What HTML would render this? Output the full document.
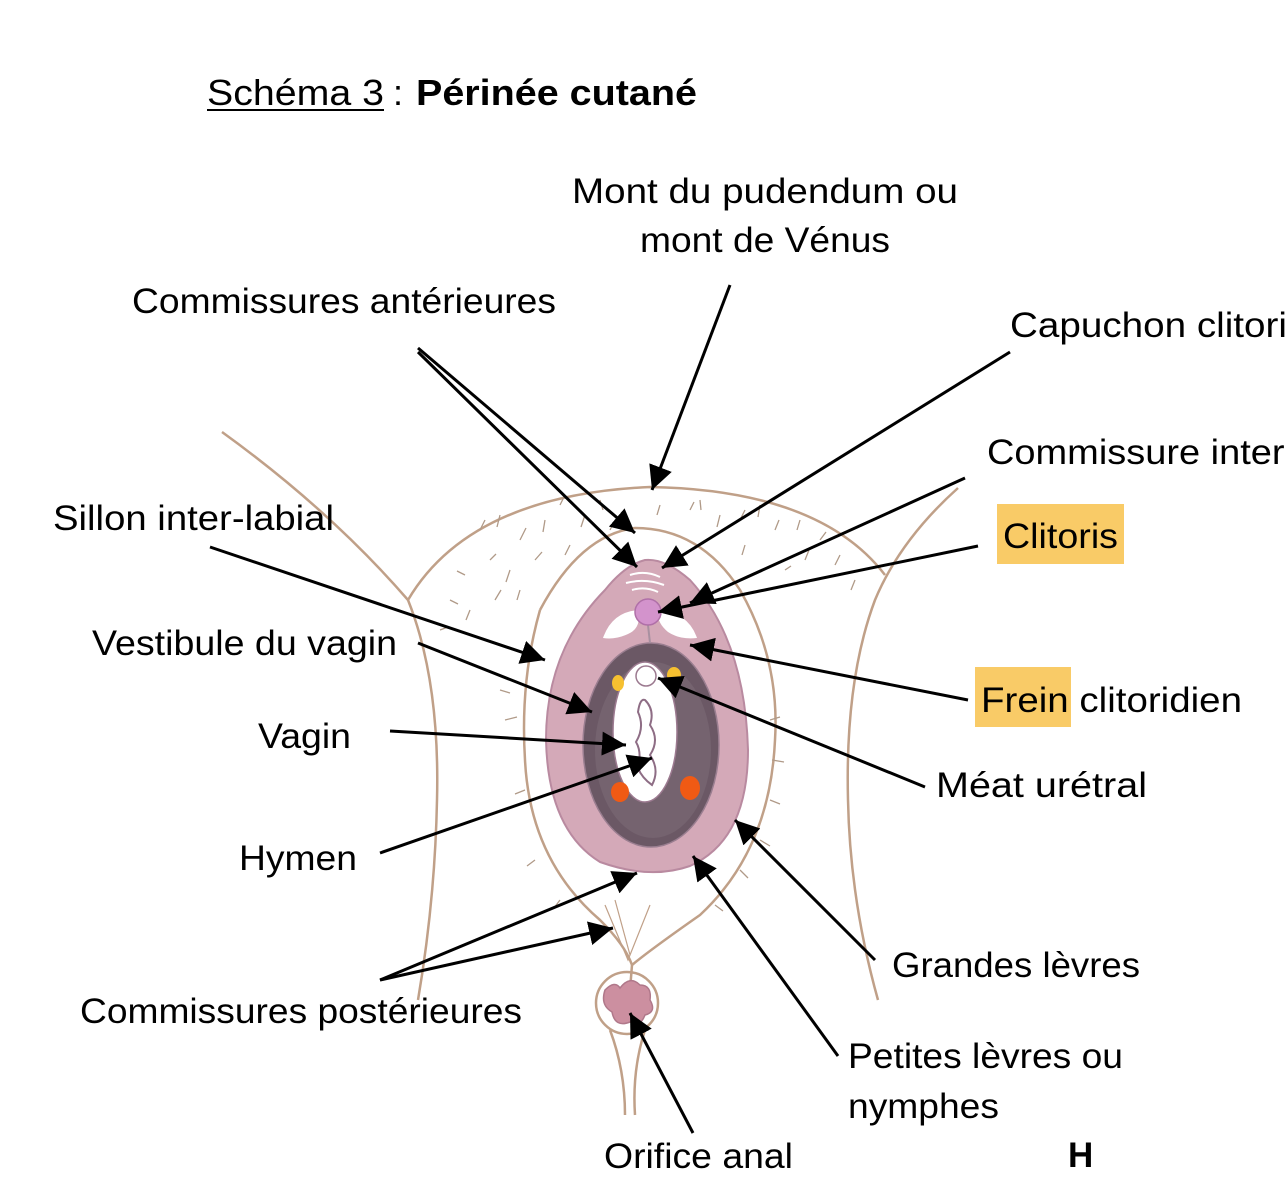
<!DOCTYPE html>
<html><head><meta charset="utf-8"><style>
html,body{margin:0;padding:0;background:#fff;}
svg{display:block;}
text{font-family:"Liberation Sans",sans-serif;fill:#000;}
</style></head><body>
<svg width="1286" height="1192" viewBox="0 0 1286 1192" xmlns="http://www.w3.org/2000/svg">
<defs>
<marker id="a" viewBox="0 0 10 10" refX="10" refY="5" markerWidth="24" markerHeight="24" markerUnits="userSpaceOnUse" orient="auto"><path d="M0,0 L10,5 L0,10 z" fill="#000"/></marker>
</defs>
<rect width="1286" height="1192" fill="#fff"/>

<text x="207" y="105" font-size="36" textLength="177" lengthAdjust="spacingAndGlyphs">Schéma 3</text>
<line x1="207" y1="110" x2="384" y2="110" stroke="#000" stroke-width="2"/>
<text x="393" y="105" font-size="36">:</text>
<text x="416" y="105" font-size="36" font-weight="bold" textLength="281" lengthAdjust="spacingAndGlyphs">Périnée cutané</text>

<g fill="none" stroke="#c0a088" stroke-width="2.5">
<path d="M222,432 Q330,510 408,600 Q440,680 437,800 Q435,900 418,1000"/>
<path d="M958,488 Q900,540 875,600 Q845,680 848,800 Q850,900 878,1000"/>
<path d="M408,600 Q470,495 650,487 Q820,490 885,575"/>
<path d="M540,610 Q580,535 635,528 Q700,528 740,590 Q780,660 775,740 Q770,850 700,915 Q650,950 632,965"/>
<path d="M540,610 Q520,680 525,760 Q530,860 600,920 Q625,945 632,965"/>
<path d="M632,965 L630,990" />
<path d="M610,1030 Q625,1070 625,1115 M645,1030 Q632,1070 635,1115"/>
<circle cx="627" cy="1003" r="31"/>
<path d="M605,905 L628,960 L650,905 M615,900 L630,955" stroke-width="1.2"/>
</g>
<path d="M605,990 Q615,980 620,988 Q630,975 640,985 Q652,985 650,1000 Q657,1012 645,1015 Q640,1028 630,1022 Q615,1028 612,1012 Q600,1005 605,990 z" fill="#cc8fa0" stroke="#b0788a" stroke-width="1.5"/>

<g stroke="#b09a88" stroke-width="1.3" fill="none">
<path d="M480,530 l5,-10 M500,515 l-3,12 M520,540 l6,-12 M545,520 l-2,12 M560,505 l5,-10 M585,515 l-4,12 M600,500 l3,10 M570,545 l-5,10 M535,560 l7,-8 M510,570 l-4,12 M490,560 l6,-6 M465,575 l-8,-4 M450,600 l8,4 M470,610 l-4,10 M495,600 l6,-10 M520,590 l-3,10 M610,530 l5,-10 M660,505 l-3,10 M690,510 l4,-8 M700,500 l1,10 M720,515 l-3,12 M740,520 l5,-10 M760,505 l-2,12 M775,530 l4,-10 M800,520 l-3,10 M820,540 l6,-8 M840,555 l-5,10 M805,560 l4,-10 M785,570 l6,-4 M855,580 l-4,10 M745,545 l-3,10 M440,630 l8,-3 M500,690 l10,3 M505,720 l12,-3 M525,790 l-10,4 M535,860 l-8,6 M770,720 l10,-3 M772,760 l12,2 M770,800 l10,4 M760,840 l10,6 M740,870 l8,8 M715,905 l8,6 M560,900 l-6,8"/>
</g>

<path d="M645,560 Q665,558 690,580 Q745,640 748,750 Q748,840 690,866 Q650,880 600,862 Q548,830 546,740 Q546,650 605,590 Q625,565 645,560 z" fill="#d4a9b8" stroke="#b98aa0" stroke-width="2"/>
<ellipse cx="651" cy="745" rx="68" ry="102" fill="#6b5865" stroke="#9a7e90" stroke-width="1.5"/>
<ellipse cx="653" cy="750" rx="58" ry="88" fill="#7c6a76" opacity="0.6"/>
<ellipse cx="645" cy="732" rx="32" ry="70" fill="#fff" stroke="#9c7a90" stroke-width="1.5"/>
<path d="M645,700 Q655,710 650,725 Q660,740 650,755 Q660,770 652,785 Q642,778 638,768 Q642,752 636,742 Q645,727 638,712 Q640,698 645,700 z" fill="#fff" stroke="#8e6d85" stroke-width="2"/>
<path d="M603,638 Q612,612 638,610 Q642,628 628,634 Q615,640 603,638 z" fill="#fff"/>
<path d="M658,610 Q688,612 697,638 Q680,640 668,632 Q656,622 658,610 z" fill="#fff"/>
<path d="M630,575 Q645,570 660,577 M626,583 Q645,578 664,585 M632,590 Q645,586 658,592" stroke="#fff" stroke-width="2" fill="none"/>
<path d="M648,625 L650,643" stroke="#a890a0" stroke-width="2"/>
<circle cx="648" cy="612" r="13" fill="#d393cc" stroke="#b070a8" stroke-width="1.5"/>
<circle cx="646" cy="676" r="10" fill="#fff" stroke="#9c7a90" stroke-width="1.5"/>
<ellipse cx="618" cy="683" rx="6" ry="8" fill="#f6c030"/>
<ellipse cx="674" cy="675" rx="7" ry="8" fill="#f6c030"/>
<ellipse cx="620" cy="792" rx="9" ry="10" fill="#f05a14"/>
<ellipse cx="690" cy="788" rx="10" ry="12" fill="#f05a14"/>

<g stroke="#000" stroke-width="3" fill="none" marker-end="url(#a)">
<line x1="730" y1="285" x2="652" y2="490"/>
<line x1="418" y1="348" x2="635" y2="533"/>
<line x1="418" y1="352" x2="637" y2="567"/>
<line x1="1010" y1="352" x2="662" y2="568"/>
<line x1="965" y1="478" x2="690" y2="603"/>
<line x1="978" y1="546" x2="658" y2="612"/>
<line x1="968" y1="700" x2="690" y2="645"/>
<line x1="925" y1="787" x2="658" y2="678"/>
<line x1="210" y1="547" x2="545" y2="660"/>
<line x1="418" y1="643" x2="592" y2="712"/>
<line x1="390" y1="731" x2="626" y2="745"/>
<line x1="380" y1="853" x2="652" y2="758"/>
<line x1="380" y1="980" x2="637" y2="873"/>
<line x1="380" y1="980" x2="613" y2="928"/>
<line x1="875" y1="960" x2="735" y2="820"/>
<line x1="838" y1="1056" x2="693" y2="856"/>
<line x1="693" y1="1133" x2="630" y2="1013"/>
</g>

<rect x="997" y="504" width="127" height="60" fill="#f9cb67"/>
<rect x="975" y="667" width="96" height="60" fill="#f9cb67"/>

<g font-size="35">
<text x="572" y="203" textLength="386" lengthAdjust="spacingAndGlyphs">Mont du pudendum ou</text>
<text x="640" y="252" textLength="250" lengthAdjust="spacingAndGlyphs">mont de Vénus</text>
<text x="132" y="313" textLength="424" lengthAdjust="spacingAndGlyphs">Commissures antérieures</text>
<text x="1010" y="337" textLength="350" lengthAdjust="spacingAndGlyphs">Capuchon clitoridien</text>
<text x="987" y="464" textLength="420" lengthAdjust="spacingAndGlyphs">Commissure inter-labiale</text>
<text x="1003" y="548" textLength="115" lengthAdjust="spacingAndGlyphs">Clitoris</text>
<text x="53" y="530" textLength="281" lengthAdjust="spacingAndGlyphs">Sillon inter-labial</text>
<text x="92" y="655" textLength="305" lengthAdjust="spacingAndGlyphs">Vestibule du vagin</text>
<text x="981" y="712" textLength="261" lengthAdjust="spacingAndGlyphs">Frein clitoridien</text>
<text x="258" y="748" textLength="93" lengthAdjust="spacingAndGlyphs">Vagin</text>
<text x="936" y="797" textLength="211" lengthAdjust="spacingAndGlyphs">Méat urétral</text>
<text x="239" y="870" textLength="118" lengthAdjust="spacingAndGlyphs">Hymen</text>
<text x="892" y="977" textLength="248" lengthAdjust="spacingAndGlyphs">Grandes lèvres</text>
<text x="80" y="1023" textLength="442" lengthAdjust="spacingAndGlyphs">Commissures postérieures</text>
<text x="848" y="1068" textLength="275" lengthAdjust="spacingAndGlyphs">Petites lèvres ou</text>
<text x="848" y="1118" textLength="151" lengthAdjust="spacingAndGlyphs">nymphes</text>
<text x="604" y="1168" textLength="189" lengthAdjust="spacingAndGlyphs">Orifice anal</text>
<text x="1068" y="1167" font-weight="bold">H</text>
</g>
</svg>
</body></html>
